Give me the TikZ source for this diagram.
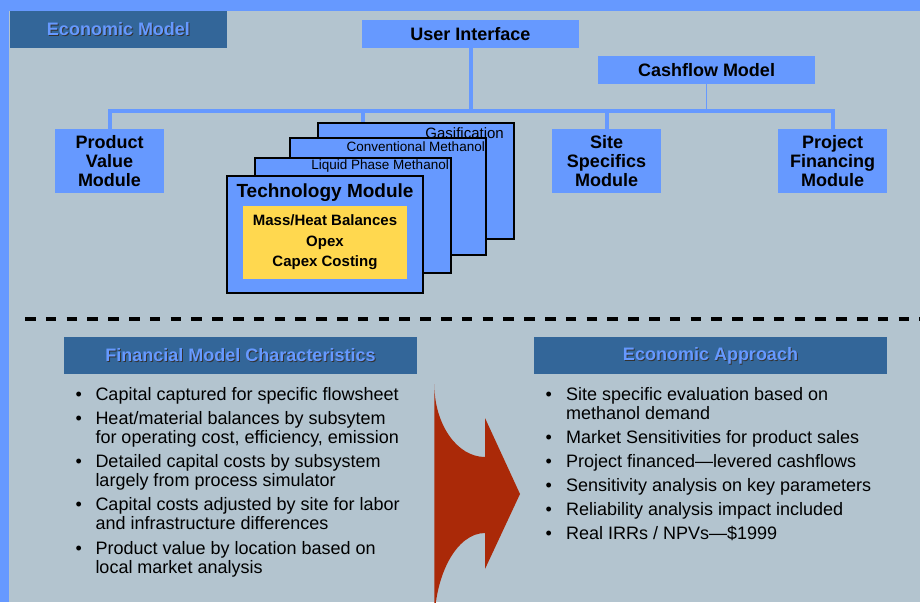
\documentclass[tikz,border=0pt]{standalone}
\usepackage{fontspec}
\setmainfont{Liberation Sans}
\usetikzlibrary{calc}

\definecolor{panel}{HTML}{B3C4CF}
\definecolor{skyblue}{HTML}{6699FF}
\definecolor{navy}{HTML}{336699}
\definecolor{gold}{HTML}{FFD84F}
\definecolor{rust}{HTML}{AA2908}

\pgfdeclarelayer{backdrop}
\pgfdeclarelayer{wires}
\pgfsetlayers{backdrop,wires,main}

% raised heading text with a dark drop shadow
\newcommand{\embossed}[1]{\rlap{\raisebox{-1pt}[0pt][0pt]{\hspace{1pt}\color{black!80}#1}}#1}

\begin{document}
\begin{tikzpicture}[x=1pt,y=-1pt,
  banner/.style={fill=navy, inner sep=0pt, outer sep=0pt, text=skyblue,
    font=\fontsize{18}{20}\selectfont\bfseries},
  module/.style={fill=skyblue, inner sep=0pt, outer sep=0pt, align=center,
    font=\fontsize{18}{19.2}\selectfont\bfseries},
  card/.style={fill=skyblue, draw=black, line width=1.8pt, minimum width=196pt,
    inner sep=0pt, outer sep=0pt},
  cardlabel/.style={inner sep=0pt, anchor=base east, font=\fontsize{13.5}{14}\selectfont},
  bus/.style={draw=skyblue, line width=4pt},
  feed/.style={draw=skyblue, line width=1.7pt},
  bullets/.style={inner sep=0pt, anchor=base west, font=\fontsize{18}{19.2}\selectfont}]

\useasboundingbox (0,0) rectangle (920,602);

% page frame
\begin{pgfonlayer}{backdrop}
\fill[panel] (0,0) rectangle (920,602);
\fill[skyblue] (0,0) rectangle (920,11.5);
\fill[skyblue] (0,0) rectangle (9,602);
\end{pgfonlayer}

% upper half: model structure
\node[banner, minimum width=217pt, minimum height=37pt] (econ) at (118.5,29.5) {\embossed{Economic Model}};

\node[module, minimum width=217pt, minimum height=28pt] (ui) at (470.5,34) {User Interface};
\node[module, minimum width=217pt, minimum height=28pt] (cash) at (706.5,70) {Cashflow Model};

\node[module, minimum width=109pt, minimum height=64pt] (pv) at (109.5,161) {Product\\Value\\Module};
\node[module, minimum width=109pt, minimum height=64pt] (site) at (606.5,161) {Site\\Specifics\\Module};
\node[module, minimum width=109pt, minimum height=64pt] (proj) at (832.5,161) {Project\\Financing\\Module};

% technology cards, back to front
\node[card, minimum height=116pt] (gas) at (416,181) {};
\node[card, minimum height=117pt] (conv) at (388,196.5) {};
\node[card, minimum height=115pt] (lpm) at (353,215.5) {};
\node[card, minimum height=117pt] (tech) at (325,234.5) {};

\node[cardlabel, font=\fontsize{15}{16}\selectfont] (gaslabel) at (504,138.5) {Gasification};
\node[cardlabel] (convlabel) at (485,151.5) {Conventional Methanol};
\node[cardlabel] (lpmlabel) at (449,169.5) {Liquid Phase Methanol};
\node[inner sep=0pt, anchor=base, font=\fontsize{19}{20}\selectfont\bfseries] (techlabel) at (325,197) {Technology Module};

\node[fill=gold, inner sep=0pt, minimum width=164pt, minimum height=73pt, align=center,
  font=\fontsize{15}{20.5}\selectfont\bfseries] (core) at (325,242.5)
  {Mass/Heat Balances\\Opex\\Capex Costing};

% connectors, kept under the boxes
\coordinate (busy) at (0,111);
\coordinate (gasdrop) at ([xshift=45pt]gas.north west);
\begin{pgfonlayer}{wires}
\draw[bus] (ui.south) -- (ui.south |- busy);
\draw[bus] (pv.north) |- (proj.north |- busy) -- (proj.north);
\draw[bus] (gasdrop) -- (gasdrop |- busy);
\draw[bus] (site.north) -- (site.north |- busy);
\draw[feed] (cash.south) -- (cash.south |- busy);
\end{pgfonlayer}

% separator
\coordinate (sepL) at (25,319);
\coordinate (sepR) at (920,319);
\draw[black, line width=4pt, dash pattern=on 10.5pt off 10.3pt] (sepL) -- (sepR);

% lower half: two bulleted panels
\node[banner, minimum width=353pt, minimum height=37pt] (fmc) at (240.5,355.5) {\embossed{Financial Model Characteristics}};
\node[banner, minimum width=353pt, minimum height=37pt] (eap) at (710.5,355.5) {\embossed{Economic Approach}};

\node[bullets] (fmclist) at (75.5,400) {%
\begin{tabular}[t]{@{}l@{\hspace{13.5pt}}l@{}}
• & Capital captured for specific flowsheet\\[4.9pt]
• & Heat/material balances by subsytem\\
  & for operating cost, efficiency, emission\\[4.9pt]
• & Detailed capital costs by subsystem\\
  & largely from process simulator\\[4.9pt]
• & Capital costs adjusted by site for labor\\
  & and infrastructure differences\\[4.9pt]
• & Product value by location based on\\
  & local market analysis
\end{tabular}};

\node[bullets] (eaplist) at (545.3,400) {%
\begin{tabular}[t]{@{}l@{\hspace{14.3pt}}l@{}}
• & Site specific evaluation based on\\
  & methanol demand\\[4.9pt]
• & Market Sensitivities for product sales\\[4.9pt]
• & Project financed—levered cashflows\\[4.9pt]
• & Sensitivity analysis on key parameters\\[4.9pt]
• & Reliability analysis impact included\\[4.9pt]
• & Real IRRs / NPVs—\$1999
\end{tabular}};

% curved block arrow between the panels
\begin{scope}
  \clip (0,0) rectangle (920,602);
  \fill[rust] (434.3,384) .. controls (434.3,424.3) and (457,457) .. (485,457)
    -- (485,418) -- (520,494) -- (485,569) -- (485,533)
    .. controls (457,533) and (434.3,574.2) .. (434.3,625) -- cycle;
\end{scope}

\end{tikzpicture}
\end{document}
